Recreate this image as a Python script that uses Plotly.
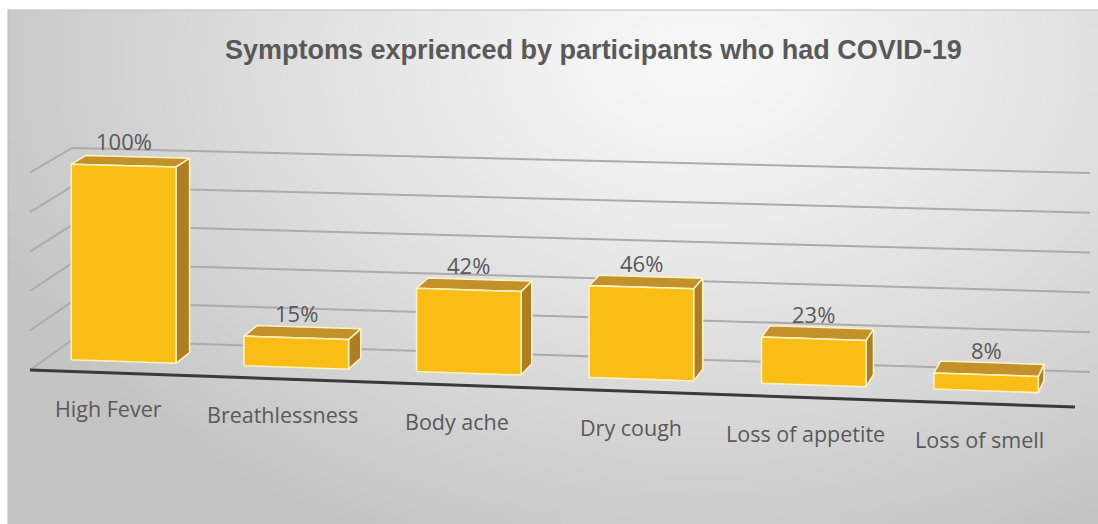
import numpy as np
import plotly.graph_objects as go

# ---------------- data ----------------
categories = ["High Fever", "Breathlessness", "Body ache", "Dry cough",
              "Loss of appetite", "Loss of smell"]
values = [100, 15, 42, 46, 23, 8]
value_labels = ["100%", "15%", "42%", "46%", "23%", "8%"]
grid_values = [0, 20, 40, 60, 80, 100]
title_text = "Symptoms exprienced by participants who had COVID-19"

# ---------------- view (3-D perspective) parameters ----------------
W, H = 1098, 524
FX0, FW = 30.0, 1045.0          # front edge of the floor (x)
FY0, FDY = 370.0, 37.0          # front edge of the floor (y, slope)
S0, S1 = 197.4, 8.0             # value scale at front plane (left / growth to right)
VX, VY = 1559.0, -722.0         # vanishing point of depth lines
T0, T1 = 0.0275, 0.0035         # depth foreshortening
VMAX = 100.0
BAR_HALF = 0.0505
BAR_Z = (0.37, 0.72)
SLOT_SHIFT = -0.008

FRONT = "#F9BD16"
TOP = "#C3912A"
SIDE = "#AD7F22"
EDGE = "#FFF4C2"
TEXT = "#595959"
GRID = "#ABABAB"


def proj(u, v, z):
    fx = FX0 + FW * u
    fy = FY0 + FDY * u - (S0 + S1 * u) * v / VMAX
    t = z * (T0 + T1 * u)
    return fx + (VX - fx) * t, fy + (VY - fy) * t


def poly(points):
    xs, ys = zip(*[proj(*p) for p in points])
    return list(xs) + [xs[0]], list(ys) + [ys[0]]


fig = go.Figure()

# background gradient
nx, ny = 60, 30
xe = np.linspace(8, W, nx + 1)
ye = np.linspace(10, H, ny + 1)
xc = (xe[:-1] + xe[1:]) / 2
yc = (ye[:-1] + ye[1:]) / 2
XX, YY = np.meshgrid(xc, yc)
rr = np.sqrt(((XX - 700) / 760) ** 2 + ((YY - 60) / 520) ** 2)
shade = 248 - 52 * np.clip(rr, 0, 1) ** 1.2
fig.add_trace(go.Heatmap(x=xe, y=ye, z=shade, zmin=0, zmax=255,
                         colorscale=[[0, "rgb(0,0,0)"], [1, "rgb(255,255,255)"]],
                         showscale=False, zsmooth="best", hoverinfo="skip"))

# gridlines (back wall + left wall)
gx, gy = [], []
for v in grid_values:
    for a, b in [((0, v, 1), (1, v, 1)), ((0, v, 0), (0, v, 1))]:
        x1, y1 = proj(*a)
        x2, y2 = proj(*b)
        gx += [x1, x2, None]
        gy += [y1, y2, None]
fig.add_trace(go.Scatter(x=gx, y=gy, mode="lines",
                         line=dict(color=GRID, width=2),
                         hoverinfo="skip", showlegend=False))

# floor front edge
x1, y1 = proj(0, 0, 0)
x2, y2 = proj(1, 0, 0)
fig.add_trace(go.Scatter(x=[x1, x2], y=[y1, y2], mode="lines",
                         line=dict(color="#3A3A3A", width=3),
                         hoverinfo="skip", showlegend=False))

# bars
n = len(categories)
z0, z1 = BAR_Z
for i, v in enumerate(values):
    c = (i + 0.5) / n + SLOT_SHIFT
    uL, uR = c - BAR_HALF, c + BAR_HALF
    faces = [
        ([(uR, 0, z0), (uR, 0, z1), (uR, v, z1), (uR, v, z0)], SIDE),
        ([(uL, v, z0), (uR, v, z0), (uR, v, z1), (uL, v, z1)], TOP),
        ([(uL, 0, z0), (uR, 0, z0), (uR, v, z0), (uL, v, z0)], FRONT),
    ]
    for pts, col in faces:
        xs, ys = poly(pts)
        fig.add_trace(go.Scatter(x=xs, y=ys, mode="lines", fill="toself",
                                 fillcolor=col, line=dict(color=EDGE, width=1.5),
                                 hoverinfo="skip", showlegend=False))
    # value label
    lx, ly = proj(c, v, z0)
    fig.add_annotation(x=lx, y=ly - 24.5, text=value_labels[i], showarrow=False,
                       xanchor="center", yanchor="middle",
                       font=dict(family="Open Sans", size=22, color=TEXT))
    # category label
    cx, cy = proj(c, 0, 0)
    fig.add_annotation(x=cx, y=cy + 36, text=categories[i], showarrow=False,
                       xanchor="center", yanchor="middle",
                       font=dict(family="Open Sans", size=21.5, color=TEXT))

fig.add_annotation(x=593, y=50, text="<b>" + title_text + "</b>", showarrow=False,
                   xanchor="center", yanchor="middle",
                   font=dict(family="Liberation Sans, Arial", size=27, color=TEXT))

fig.add_shape(type="rect", x0=8, y0=10, x1=W + 5, y1=H + 5,
              line=dict(color="#BDBDBD", width=1), layer="above")

fig.update_layout(
    width=W, height=H, margin=dict(l=0, r=0, t=0, b=0),
    paper_bgcolor="white", plot_bgcolor="white",
    xaxis=dict(range=[0, W], visible=False, fixedrange=True),
    yaxis=dict(range=[H, 0], visible=False, fixedrange=True),
    showlegend=False,
)

fig.write_html("out.html",
               config={"displayModeBar": False, "staticPlot": True},
               post_script="document.body.style.margin='0';"
                           "document.body.style.overflow='hidden';")
